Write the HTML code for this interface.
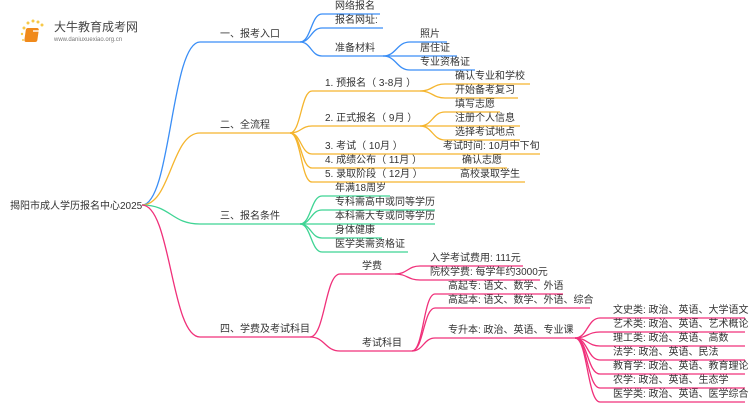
<!DOCTYPE html>
<html><head><meta charset="utf-8"><style>
html,body{margin:0;padding:0;background:#fff;width:750px;height:410px;overflow:hidden}
svg text{font-family:"Liberation Sans","Noto Sans CJK SC",sans-serif;font-size:10px;fill:#333}
</style></head><body>
<svg id="s" width="750" height="410" viewBox="0 0 750 410" xmlns="http://www.w3.org/2000/svg">
<g>
<circle cx="24" cy="28" r="1.5" fill="#f7c948"/><circle cx="28" cy="23" r="1.5" fill="#f7c948"/><circle cx="33" cy="21" r="1.5" fill="#f7c948"/><circle cx="38" cy="22" r="1.5" fill="#f7c948"/><circle cx="42" cy="25" r="1.5" fill="#f7c948"/><circle cx="22" cy="34" r="1.2" fill="#f7c948"/><circle cx="23" cy="40" r="1" fill="#f7c948"/>
<rect x="30" y="28" width="13" height="14" rx="2" fill="#f08a1c" transform="skewX(-8)"/>
<rect x="33" y="30" width="8" height="2" fill="#fff" opacity=".7"/>
<text x="54" y="31" style="font-size:12px;fill:#444">大牛教育成考网</text>
<text x="54" y="41" style="font-size:6px;fill:#777">www.daniuxuexiao.org.cn</text>
</g>
<text x="10" y="209">揭阳市成人学历报名中心2025</text>
</svg>
<script>
var s=document.getElementById('s'),NS='http://www.w3.org/2000/svg';
function P(d,c){var p=document.createElementNS(NS,'path');p.setAttribute('d',d);p.setAttribute('stroke',c);p.setAttribute('fill','none');p.setAttribute('stroke-width','1.3');s.appendChild(p);}
function T(x,y,t){var e=document.createElementNS(NS,'text');e.setAttribute('x',x);e.setAttribute('y',y);e.textContent=t;s.appendChild(e);}
function E(x1,y1,x2,y2,x3,c,tx,t){var m=(x1+x2)/2;P('M'+x1+' '+y1+' C'+m+' '+y1+' '+m+' '+y2+' '+x2+' '+y2+' L'+x3+' '+y2,c);T(tx,y2-5,t);}
var B='#3a8ef6',O='#f5b52e',G='#3fd494',K='#f0307a';
E(142,205,200,42,300,B,220,'一、报考入口');
E(142,205,200,133,290,O,220,'二、全流程');
E(142,205,200,224,300,G,220,'三、报名条件');
E(142,205,200,337,310,K,220,'四、学费及考试科目');
E(300,42,322,14,380,B,335,'网络报名');
E(300,42,322,28,383,B,335,'报名网址:');
E(300,42,322,56,383,B,335,'准备材料');
E(383,56,410,42,447,B,420,'照片');
E(383,56,410,56,457,B,420,'居住证');
E(383,56,410,70,475,B,420,'专业资格证');
E(290,133,312,91,420,O,325,'1. 预报名（ 3-8月 ）');
E(290,133,312,126,420,O,325,'2. 正式报名（ 9月 ）');
E(290,133,312,154,540,O,325,'3. 考试（ 10月 ）');
E(290,133,312,168,507,O,325,'4. 成绩公布（ 11月 ）');
E(290,133,312,182,525,O,325,'5. 录取阶段（ 12月 ）');
E(420,91,445,84,530,O,455,'确认专业和学校');
E(420,91,445,98,518,O,455,'开始备考复习');
E(420,126,445,112,500,O,455,'填写志愿');
E(420,126,445,126,520,O,455,'注册个人信息');
E(420,126,445,140,520,O,455,'选择考试地点');
T(443,149,'考试时间: 10月中下旬');
T(462,163,'确认志愿');
T(460,177,'高校录取学生');
var g=[['年满18周岁',390],['专科需高中或同等学历',435],['本科需大专或同等学历',435],['身体健康',382],['医学类需资格证',408]];
g.forEach(function(a,i){E(300,224,322,196+i*14,a[1],G,335,a[0]);});
E(310,337,340,274,395,K,362,'学费');
E(310,337,340,351,412,K,362,'考试科目');
E(395,274,420,266,523,K,430,'入学考试费用: 111元');
E(395,274,420,280,540,K,430,'院校学费: 每学年约3000元');
E(412,351,435,294,563,K,448,'高起专: 语文、数学、外语');
E(412,351,435,308,590,K,448,'高起本: 语文、数学、外语、综合');
E(412,351,435,338,575,K,448,'专升本: 政治、英语、专业课');
var z=['文史类: 政治、英语、大学语文','艺术类: 政治、英语、艺术概论','理工类: 政治、英语、高数','法学: 政治、英语、民法','教育学: 政治、英语、教育理论','农学: 政治、英语、生态学','医学类: 政治、英语、医学综合'];
z.forEach(function(t,i){E(575,338,600,318+i*14,745,K,613,t);});
</script>
</body></html>
